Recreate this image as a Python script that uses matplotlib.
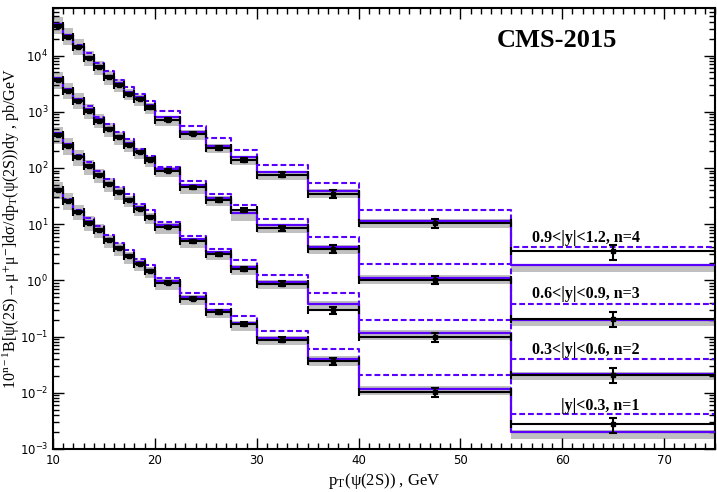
import numpy as np
import matplotlib
matplotlib.use("Agg")
import matplotlib.pyplot as plt
from matplotlib.ticker import FixedLocator, LogLocator, NullFormatter

plt.rcParams["mathtext.fontset"] = "stix"

# ---- data ----
edges = [10, 11, 12, 13, 14, 15, 16, 17, 18, 19, 20, 22.5, 25, 27.5, 30, 35, 40, 55, 75]

data_n4 = [3.4e4, 2.15e4, 1.43e4, 8.9e3, 6.2e3, 4.2e3, 3.0e3, 2.1e3, 1.7e3, 1.2e3, 724, 404, 228, 141, 76, 34.7, 10.3, 3.3]
data_n3 = [3.72e3, 2.37e3, 1.57e3, 1.05e3, 690, 495, 351, 260, 190, 141, 90, 44.9, 27.1, 18.0, 8.5, 3.66, 1.03, 0.209]
data_n2 = [392, 250, 155, 107, 75, 52, 37, 26.4, 18.8, 13.3, 8.85, 4.99, 2.9, 1.61, 0.873, 0.293, 0.098, 0.0211]
data_n1 = [40.8, 25.6, 16.3, 10.6, 7.73, 5.13, 3.75, 2.67, 1.98, 1.46, 0.91, 0.473, 0.274, 0.166, 0.0885, 0.0369, 0.0104, 0.00273]

solid_n4 = [3.6e4, 2.3e4, 1.5e4, 9.5e3, 6.5e3, 4.4e3, 3.2e3, 2.25e3, 1.8e3, 1.3e3, 795, 444, 250, 155, 83, 39, 11.2, 1.85]
solid_n3 = [3.9e3, 2.5e3, 1.65e3, 1.1e3, 730, 520, 370, 275, 200, 148, 97, 48.7, 29.5, 15.7, 9.5, 3.9, 1.12, 0.2]
solid_n2 = [410, 262, 163, 112, 79, 55, 39, 28, 19.8, 14, 9.6, 5.35, 3.14, 1.72, 0.93, 0.385, 0.116, 0.022]
solid_n1 = [43, 27, 17.2, 11.2, 8.1, 5.4, 3.95, 2.8, 2.08, 1.54, 0.97, 0.506, 0.293, 0.177, 0.096, 0.0407, 0.0119, 0.00202]

dashed_n4 = [3.52e4, 2.34e4, 1.56e4, 1.09e4, 7.24e3, 5.22e3, 3.72e3, 2.71e3, 2.04e3, 1.57e3, 1030, 566, 343, 212, 115, 54, 18, 3.86]
dashed_n3 = [3.83e3, 2.58e3, 1.71e3, 1.25e3, 810, 610, 435, 330, 220, 166, 106, 59.7, 34.7, 22.1, 12.1, 5.8, 1.92, 0.385]
dashed_n2 = [400, 270, 170, 128, 88, 64, 46, 34, 23, 17.5, 10.9, 6.1, 3.66, 2.27, 1.26, 0.595, 0.2, 0.0395]
dashed_n1 = [42, 28, 18, 13, 9.1, 6.4, 4.7, 3.45, 2.4, 1.9, 1.1, 0.6, 0.375, 0.23, 0.126, 0.0612, 0.0205, 0.00417]

# band extent (decades above / below the solid curve)
band_up_dex = [0.12, 0.12, 0.11, 0.10, 0.09, 0.08, 0.07, 0.06, 0.05, 0.05, 0.03, 0.03, 0.03, 0.03, 0.03, 0.04, 0.05, 0.03]
band_dn_dex = [0.18, 0.18, 0.17, 0.17, 0.16, 0.16, 0.16, 0.15, 0.15, 0.15, 0.15, 0.15, 0.14, 0.14, 0.13, 0.13, 0.12, 0.12]

# relative data uncertainty
rel_err = [0.04, 0.04, 0.04, 0.04, 0.04, 0.04, 0.04, 0.04, 0.04, 0.05, 0.05, 0.06, 0.07, 0.08, 0.10, 0.15, 0.18, 0.30]

labels = ["|y|<0.3, n=1", "0.3<|y|<0.6, n=2", "0.6<|y|<0.9, n=3", "0.9<|y|<1.2, n=4"]
label_y = [0.00585, 0.0587, 0.58, 5.57]

series = [
    (data_n1, solid_n1, dashed_n1),
    (data_n2, solid_n2, dashed_n2),
    (data_n3, solid_n3, dashed_n3),
    (data_n4, solid_n4, dashed_n4),
]

BLUE = "#5a00ff"
GRAY = "#c0c0c0"

fig = plt.figure(figsize=(7.17, 4.92), dpi=100)
ax = fig.add_axes([53 / 717, 1 - 449 / 492, (715 - 53) / 717, (449 - 8) / 492])

e = np.array(edges, dtype=float)
centers = 0.5 * (e[:-1] + e[1:])
halfw = 0.5 * (e[1:] - e[:-1])
up = np.array(band_up_dex)
dn = np.array(band_dn_dex)
rel = np.array(rel_err)

for dat, sol, dsh in series:
    dat = np.array(dat); sol = np.array(sol); dsh = np.array(dsh)
    hi = sol * 10 ** up
    lo = sol * 10 ** (-dn)
    ax.fill_between(e, np.append(lo, lo[-1]), np.append(hi, hi[-1]), step="post",
                    color=GRAY, lw=0, zorder=1)
    ax.step(e, np.append(dsh, dsh[-1]), where="post", color=BLUE, lw=1.5,
            linestyle=(0, (2.8, 1.4)), zorder=2)
    ax.step(e, np.append(sol, sol[-1]), where="post", color=BLUE, lw=1.6, zorder=3)
    ax.errorbar(centers, dat, xerr=halfw, yerr=dat * rel, fmt="s", ms=3, color="black",
                ecolor="black", elinewidth=1.5, capsize=2.8, capthick=1.5, zorder=4)

for txt, yy in zip(labels, label_y):
    ax.text(67.6, yy, txt, ha="right", va="center", fontsize=11.5, fontweight="bold",
            family="Liberation Serif", zorder=5)

ax.text(59.5, 1.83e4, "CMS-2015", ha="center", va="center", fontsize=19,
        fontweight="bold", family="Liberation Serif")

ax.set_yscale("log")
ax.set_xlim(10, 75)
ax.set_ylim(1e-3, 7e4)
ax.xaxis.set_major_locator(FixedLocator([10, 20, 30, 40, 50, 60, 70]))
ax.xaxis.set_minor_locator(FixedLocator(np.arange(10, 76, 1)))
ax.yaxis.set_major_locator(LogLocator(base=10, numticks=20))
ax.yaxis.set_minor_locator(LogLocator(base=10, subs=np.arange(2, 10), numticks=20))
ax.yaxis.set_minor_formatter(NullFormatter())
ax.tick_params(which="both", direction="in", top=True, right=True, labelsize=8.5, width=1)
ax.tick_params(which="major", length=8)
ax.tick_params(which="minor", length=4)
for sp in ax.spines.values():
    sp.set_linewidth(1.5)

ax.set_xlabel(r"p$_\mathregular{T}$(ψ(2S)) , GeV", family="Liberation Serif", fontsize=12, labelpad=3)
ax.set_ylabel(r"10$^{\mathregular{n-1}}$B[ψ(2S)→μ$^{+}$μ$^{-}$]dσ/dp$_\mathregular{T}$(ψ(2S))dy , pb/GeV",
              family="Liberation Serif", fontsize=11.5, labelpad=2)
ax.yaxis.set_label_coords(-0.047, 0.5)

fig.savefig("out.png", dpi=100)
